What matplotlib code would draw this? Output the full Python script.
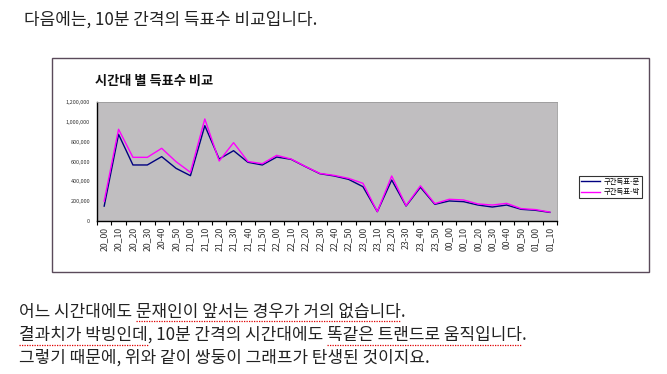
import numpy as np
import matplotlib
matplotlib.use("Agg")
import matplotlib.pyplot as plt
from matplotlib.patches import Rectangle
from matplotlib.lines import Line2D

plt.rcParams['font.family'] = ['Noto Sans CJK KR', 'DejaVu Sans']

# time slots (10 minute steps)
labels = ['20_00', '20_10', '20_20', '20_30', '20-40', '20_50',
          '21_00', '21_10', '21_20', '21_30', '21_40', '21_50',
          '22_00', '22_10', '22_20', '22_30', '22_40', '22_50',
          '23_00', '23_10', '23_20', '23-30', '23_40', '23_50',
          '00_00', '00_10', '00_20', '00_30', '00-40', '00_50',
          '01_00', '01_10']

# 구간득표-문 (navy)
moon = [150000, 874000, 565000, 565000, 649000, 531000,
        457000, 961000, 625000, 709000, 592000, 565000,
        645000, 622000, 548000, 477000, 454000, 420000,
        346000, 94000, 413000, 151000, 340000, 168000,
        202000, 195000, 161000, 141000, 161000, 118000,
        108000, 87000]

# 구간득표-박 (magenta)
park = [200000, 925000, 642000, 642000, 733000, 598000,
        491000, 1029000, 605000, 790000, 600000, 578000,
        662000, 625000, 550000, 480000, 460000, 430000,
        380000, 94000, 454000, 155000, 355000, 175000,
        219000, 212000, 172000, 161000, 178000, 125000,
        115000, 90000]

yticks = [0, 200000, 400000, 600000, 800000, 1000000, 1200000]

W, H = 667, 374
fig = plt.figure(figsize=(W / 100, H / 100), dpi=100)


def fx(px):
    return px / W


def fy(py):
    return 1 - py / H


# chart outer box
fig.add_artist(Rectangle((fx(52), fy(272)), fx(649) - fx(52), fy(58) - fy(272),
                         transform=fig.transFigure, fill=False,
                         edgecolor='#5a4a5a', linewidth=1.0))

ax = fig.add_axes([fx(97), fy(221), fx(557) - fx(97), fy(102) - fy(221)])
ax.set_facecolor('#c0bec0')

x = np.arange(len(labels))
ax.plot(x, moon, color='#000080', linewidth=1.0, label='구간득표-문')
ax.plot(x, park, color='#ff00ff', linewidth=1.0, label='구간득표-박')

ax.set_xlim(-0.5, len(labels) - 0.5)
ax.set_ylim(0, 1200000)
ax.set_yticks(yticks)
ax.set_yticklabels([f'{v:,}' for v in yticks], fontsize=4, color='#333333')
ax.tick_params(axis='y', length=0, pad=5)

ax.set_xticks(x)
ax.set_xticklabels(labels, rotation=90, fontsize=6.3, color='#333333')
ax.set_xticks(np.arange(len(labels) + 1) - 0.5, minor=True)
ax.tick_params(axis='x', which='major', length=0, pad=4)
ax.tick_params(axis='x', which='minor', length=3, width=0.8, color='black')

for side in ['top', 'right']:
    ax.spines[side].set_color('#9a9a9a')
    ax.spines[side].set_linewidth(0.6)
for side in ['left', 'bottom']:
    ax.spines[side].set_color('black')
    ax.spines[side].set_linewidth(1.0)

fig.text(fx(95), fy(81), '시간대 별 득표수 비교', fontsize=9.5, fontweight='bold',
         va='center', ha='left', color='#111111')

leg = fig.legend(loc='center left', bbox_to_anchor=(fx(579), fy(187)),
                 fontsize=5.3, frameon=True, fancybox=False, handlelength=2.6,
                 borderpad=0.3, labelspacing=0.3, handletextpad=0.5,
                 borderaxespad=0)
leg.get_frame().set_edgecolor('black')
leg.get_frame().set_linewidth(0.8)

# surrounding text
txt = dict(fontsize=12.2, va='center', ha='left', color='#222222')
intro = '다음에는, 10분 간격의 득표수 비교입니다.'
lines = ['어느 시간대에도 문재인이 앞서는 경우가 거의 없습니다.',
         '결과치가 박빙인데, 10분 간격의 시간대에도 똑같은 트랜드로 움직입니다.',
         '그렇기 때문에, 위와 같이 쌍둥이 그래프가 탄생된 것이지요.']
underlined = [['문재인이 앞서는 경우가 거의 없습니다'],
              ['결과치가 박빙인데', '똑같은 트랜드로 움직입니다'],
              []]
line_y = [312, 335, 358]
under_y = [321, 345, 368]

fig.text(fx(24), fy(20), intro, **txt)
renderer = fig.canvas.get_renderer()


def text_width(s):
    t = fig.text(0, 0, s, **txt)
    w = t.get_window_extent(renderer).width
    t.remove()
    return w


for line, subs, ly, uy in zip(lines, underlined, line_y, under_y):
    fig.text(fx(19), fy(ly), line, **txt)
    # red spell-check style underline under marked words
    for sub in subs:
        k = line.index(sub)
        x_end = 19 + text_width(line[:k + len(sub)])
        x_start = x_end - text_width(sub)
        fig.add_artist(Line2D([fx(x_start), fx(x_end)], [fy(uy), fy(uy)],
                              transform=fig.transFigure, color='#e00000',
                              linewidth=0.9, linestyle=(0, (1, 1))))

fig.savefig('out.png', dpi=100)
